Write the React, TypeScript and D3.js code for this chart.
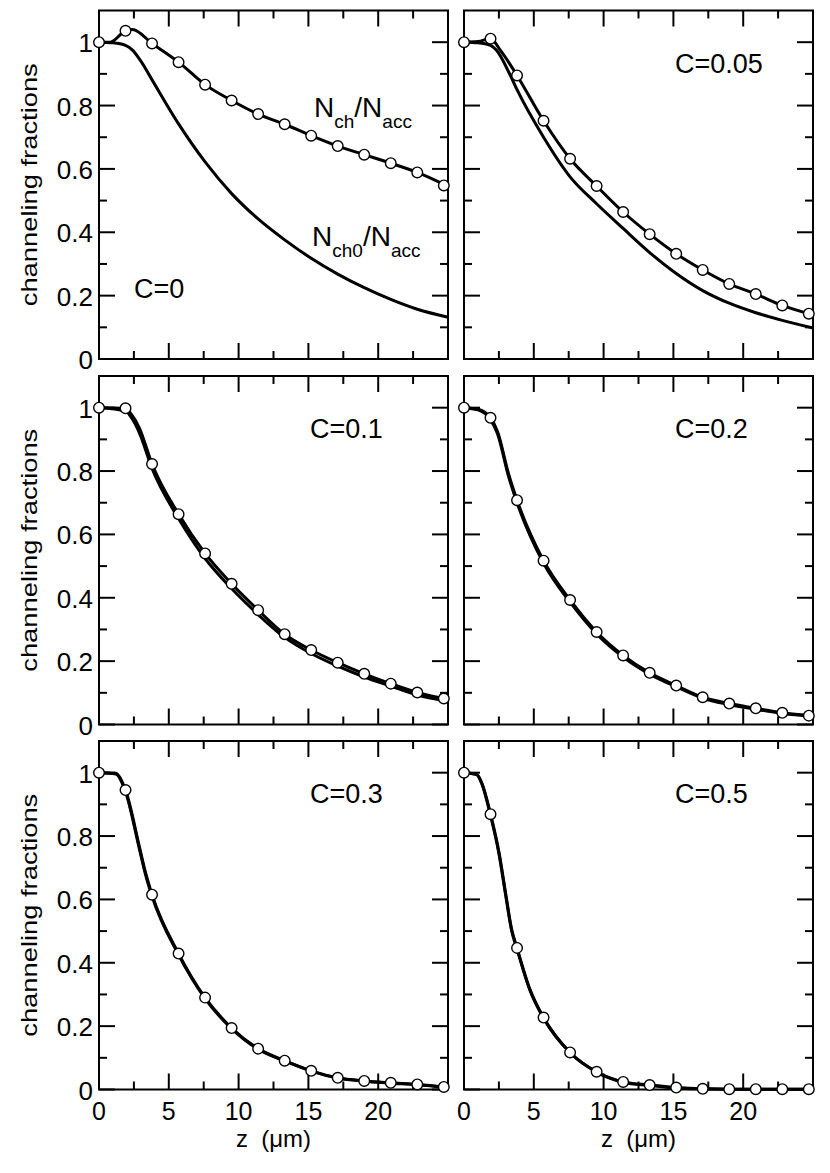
import React from "react";
import * as d3 from "d3";

// z positions of the open-circle markers (N_ch / N_acc), in µm
const zMarks = [0, 1.9, 3.8, 5.7, 7.6, 9.5, 11.4, 13.3, 15.2, 17.1, 19.0, 20.9, 22.8, 24.7];

const xMajor = [0, 5, 10, 15, 20, 25];
const xMinor = [2.5, 7.5, 12.5, 17.5, 22.5];
const xLabels = ["0", "5", "10", "15", "20"];
const yMajor = [0, 0.2, 0.4, 0.6, 0.8, 1.0];
const yMinor = [0.1, 0.3, 0.5, 0.7, 0.9];
const yLabels = ["0", "0.2", "0.4", "0.6", "0.8", "1"];

const concentrations = ["C=0", "C=0.05", "C=0.1", "C=0.2", "C=0.3", "C=0.5"];

// markers, N_ch/N_acc
const markC0 = [1.0, 1.036, 0.996, 0.937, 0.866, 0.816, 0.773, 0.741, 0.705, 0.672, 0.645, 0.618, 0.589, 0.548];
const markC005 = [1.0, 1.011, 0.895, 0.752, 0.632, 0.546, 0.464, 0.394, 0.332, 0.281, 0.237, 0.205, 0.169, 0.143];
const markC01 = [1.0, 0.998, 0.822, 0.664, 0.54, 0.444, 0.361, 0.285, 0.235, 0.195, 0.16, 0.129, 0.101, 0.082];
const markC02 = [1.0, 0.968, 0.708, 0.517, 0.393, 0.292, 0.218, 0.163, 0.123, 0.086, 0.066, 0.051, 0.037, 0.028];
const markC03 = [1.0, 0.945, 0.615, 0.429, 0.29, 0.194, 0.129, 0.091, 0.059, 0.037, 0.027, 0.021, 0.016, 0.008];
const markC05 = [1.0, 0.869, 0.447, 0.227, 0.117, 0.056, 0.024, 0.014, 0.006, 0.002, 0.001, 0.001, 0.001, 0.001];

// N_ch/N_acc curves [z, value]
const chC0 = [[0, 1.0], [0.8, 1.0], [1.9, 1.036], [2.4, 1.04], [3.8, 0.996], [5.7, 0.937], [7.6, 0.866], [9.5, 0.816], [11.4, 0.773], [13.3, 0.741], [15.2, 0.705], [17.1, 0.672], [19, 0.645], [20.9, 0.618], [22.8, 0.589], [25, 0.545]];
const chC005 = [[0, 1.0], [1.0, 1.002], [1.9, 1.011], [2.6, 0.975], [3.3, 0.93], [3.8, 0.895], [5.7, 0.752], [7.6, 0.632], [9.5, 0.546], [11.4, 0.464], [13.3, 0.394], [15.2, 0.332], [17.1, 0.281], [19, 0.237], [20.9, 0.205], [22.8, 0.169], [25, 0.139]];
const chC01 = [[0, 1.0], [1.9, 0.998], [2.3, 0.98], [2.9, 0.935], [3.8, 0.822], [5.7, 0.664], [7.6, 0.54], [9.5, 0.444], [11.4, 0.361], [13.3, 0.285], [15.2, 0.235], [17.1, 0.195], [19, 0.16], [20.9, 0.129], [22.8, 0.101], [25, 0.079]];
const chC02 = [[0, 1.0], [1.0, 0.995], [1.9, 0.968], [2.4, 0.925], [3.2, 0.79], [3.8, 0.708], [5.7, 0.517], [7.6, 0.393], [9.5, 0.292], [11.4, 0.218], [13.3, 0.163], [15.2, 0.123], [17.1, 0.086], [19, 0.066], [20.9, 0.051], [22.8, 0.037], [25, 0.027]];
const chC03 = [[0, 1.0], [1.2, 0.998], [1.9, 0.945], [2.9, 0.765], [3.3, 0.69], [3.8, 0.615], [5.7, 0.429], [7.6, 0.29], [9.5, 0.194], [11.4, 0.129], [13.3, 0.091], [15.2, 0.059], [17.1, 0.037], [19, 0.027], [20.9, 0.021], [22.8, 0.016], [25, 0.007]];
const chC05 = [[0, 1.0], [0.9, 0.995], [1.3, 0.965], [1.9, 0.869], [2.5, 0.75], [3.0, 0.614], [3.4, 0.508], [3.8, 0.447], [4.7, 0.319], [5.7, 0.227], [7.6, 0.117], [9.5, 0.056], [11.4, 0.024], [13.3, 0.014], [15.2, 0.006], [17.1, 0.002], [19, 0.001], [25, 0.001]];

// N_ch0/N_acc curves [z, value]
const ch0C0 = [[0, 1.0], [1.0, 0.998], [1.9, 0.99], [2.4, 0.975], [3.0, 0.94], [3.8, 0.881], [5.7, 0.742], [7.6, 0.622], [9.5, 0.522], [11.4, 0.442], [13.3, 0.376], [15.2, 0.318], [17.1, 0.268], [19, 0.225], [20.9, 0.188], [22.8, 0.157], [25, 0.132]];
const ch0C005 = [[0, 1.0], [1.0, 0.998], [1.9, 0.99], [2.3, 0.976], [3.3, 0.897], [3.8, 0.85], [5.7, 0.7], [7.6, 0.575], [9.5, 0.49], [11.4, 0.412], [13.3, 0.336], [15.2, 0.27], [17.1, 0.216], [19, 0.176], [20.9, 0.146], [22.8, 0.122], [25, 0.098]];
const ch0C01 = [[0, 1.0], [1.9, 0.99], [2.3, 0.97], [2.9, 0.92], [3.8, 0.808], [5.7, 0.65], [7.6, 0.524], [9.5, 0.429], [11.4, 0.347], [13.3, 0.275], [15.2, 0.224], [17.1, 0.184], [19, 0.15], [20.9, 0.121], [22.8, 0.093], [25, 0.074]];
const ch0C02 = [[0, 1.0], [1.0, 0.993], [1.9, 0.962], [2.4, 0.918], [3.2, 0.782], [3.8, 0.7], [5.7, 0.509], [7.6, 0.386], [9.5, 0.286], [11.4, 0.213], [13.3, 0.159], [15.2, 0.119], [17.1, 0.083], [19, 0.063], [20.9, 0.048], [22.8, 0.035], [25, 0.026]];
const ch0C03 = [[0, 1.0], [1.2, 0.996], [1.9, 0.94], [2.9, 0.758], [3.3, 0.684], [3.8, 0.61], [5.7, 0.425], [7.6, 0.287], [9.5, 0.192], [11.4, 0.127], [13.3, 0.09], [15.2, 0.058], [17.1, 0.036], [19, 0.026], [20.9, 0.02], [22.8, 0.015], [25, 0.006]];
const ch0C05 = [[0, 1.0], [0.9, 0.994], [1.3, 0.962], [1.9, 0.865], [2.5, 0.745], [3.0, 0.609], [3.4, 0.504], [3.8, 0.443], [4.7, 0.316], [5.7, 0.225], [7.6, 0.116], [9.5, 0.055], [11.4, 0.023], [13.3, 0.013], [15.2, 0.005], [17.1, 0.002], [19, 0.001], [25, 0.001]];

const marks = [markC0, markC005, markC01, markC02, markC03, markC05];
const chLines = [chC0, chC005, chC01, chC02, chC03, chC05];
const ch0Lines = [ch0C0, ch0C005, ch0C01, ch0C02, ch0C03, ch0C05];

const W = 830;
const H = 1173;
const colLeft = [99, 464];
const rowTop = [10.5, 376, 741];
const pw = 349;
const ph = 348.5;
const font = "'Liberation Sans', Arial, Helvetica, sans-serif";

function Panel({ idx }: { idx: number }) {
  const col = idx % 2;
  const row = Math.floor(idx / 2);
  const left = colLeft[col];
  const top = rowTop[row];
  const x = d3.scaleLinear().domain([0, 25]).range([left, left + pw]);
  const y = d3.scaleLinear().domain([0, 1.1]).range([top + ph, top]);
  const line = d3
    .line<number[]>()
    .x((d) => x(d[0]))
    .y((d) => y(d[1]))
    .curve(d3.curveMonotoneX);

  const major = 16;
  const minor = 8;
  const bottom = top + ph;
  const right = left + pw;

  const ticks: React.ReactElement[] = [];
  xMajor.concat(xMinor).forEach((v, i) => {
    const len = xMajor.includes(v) ? major : minor;
    ticks.push(<line key={"xb" + i} x1={x(v)} x2={x(v)} y1={bottom} y2={bottom - len} />);
    ticks.push(<line key={"xt" + i} x1={x(v)} x2={x(v)} y1={top} y2={top + len} />);
  });
  yMajor.concat(yMinor).forEach((v, i) => {
    const len = yMajor.includes(v) ? major : minor;
    ticks.push(<line key={"yl" + i} x1={left} x2={left + len} y1={y(v)} y2={y(v)} />);
    ticks.push(<line key={"yr" + i} x1={right} x2={right - len} y1={y(v)} y2={y(v)} />);
  });

  const isC0 = idx === 0;

  return (
    <g>
      <g stroke="#000" strokeWidth={2}>{ticks}</g>
      <rect x={left} y={top} width={pw} height={ph} fill="none" stroke="#000" strokeWidth={2} />
      <path d={line(ch0Lines[idx]) || ""} fill="none" stroke="#000" strokeWidth={3} strokeLinejoin="round" />
      <path d={line(chLines[idx]) || ""} fill="none" stroke="#000" strokeWidth={3} strokeLinejoin="round" />
      {marks[idx].map((v, i) => (
        <circle key={i} cx={x(zMarks[i])} cy={y(v)} r={5.3} fill="#fff" stroke="#000" strokeWidth={1.4} />
      ))}
      <text
        x={isC0 ? left + 35 : left + 211}
        y={isC0 ? top + 287.5 : top + 62}
        fontSize={27}
        fontFamily={font}
      >
        {concentrations[idx]}
      </text>
      {isC0 && (
        <g fontFamily={font}>
          <text x={left + 215} y={top + 106.8} fontSize={28}>
            N<tspan fontSize={19} dy={11}>ch</tspan>
            <tspan dy={-11}>/N</tspan>
            <tspan fontSize={19} dy={11}>acc</tspan>
          </text>
          <text x={left + 213} y={top + 235.5} fontSize={28}>
            N<tspan fontSize={19} dy={11}>ch0</tspan>
            <tspan dy={-11}>/N</tspan>
            <tspan fontSize={19} dy={11}>acc</tspan>
          </text>
        </g>
      )}
      {col === 0 &&
        yMajor.map((v, i) => (
          <text key={"ytl" + i} x={left - 6} y={y(v) + 10} fontSize={26} fontFamily={font} textAnchor="end">
            {yLabels[i]}
          </text>
        ))}
      {col === 0 && (
        <text
          transform={`translate(${37},${top + ph / 2}) rotate(-90)`}
          fontSize={22}
          fontFamily={font}
          textAnchor="middle"
          textLength={243}
          lengthAdjust="spacingAndGlyphs"
        >
          channeling fractions
        </text>
      )}
      {row === 2 &&
        xLabels.map((s, i) => (
          <text key={"xtl" + i} x={x(xMajor[i])} y={bottom + 30} fontSize={25} fontFamily={font} textAnchor="middle">
            {s}
          </text>
        ))}
      {row === 2 && (
        <text x={left + pw / 2} y={bottom + 57} fontSize={24} fontFamily={font} textAnchor="middle" xmlSpace="preserve">
          {"z  (\u03bcm)"}
        </text>
      )}
    </g>
  );
}

export default function App() {
  return (
    <svg
      width={W}
      height={H}
      viewBox={`0 0 ${W} ${H}`}
      style={{ position: "absolute", left: 0, top: 0, background: "#fff" }}
    >
      <rect width={W} height={H} fill="#fff" />
      {concentrations.map((_, i) => (
        <Panel key={i} idx={i} />
      ))}
    </svg>
  );
}
